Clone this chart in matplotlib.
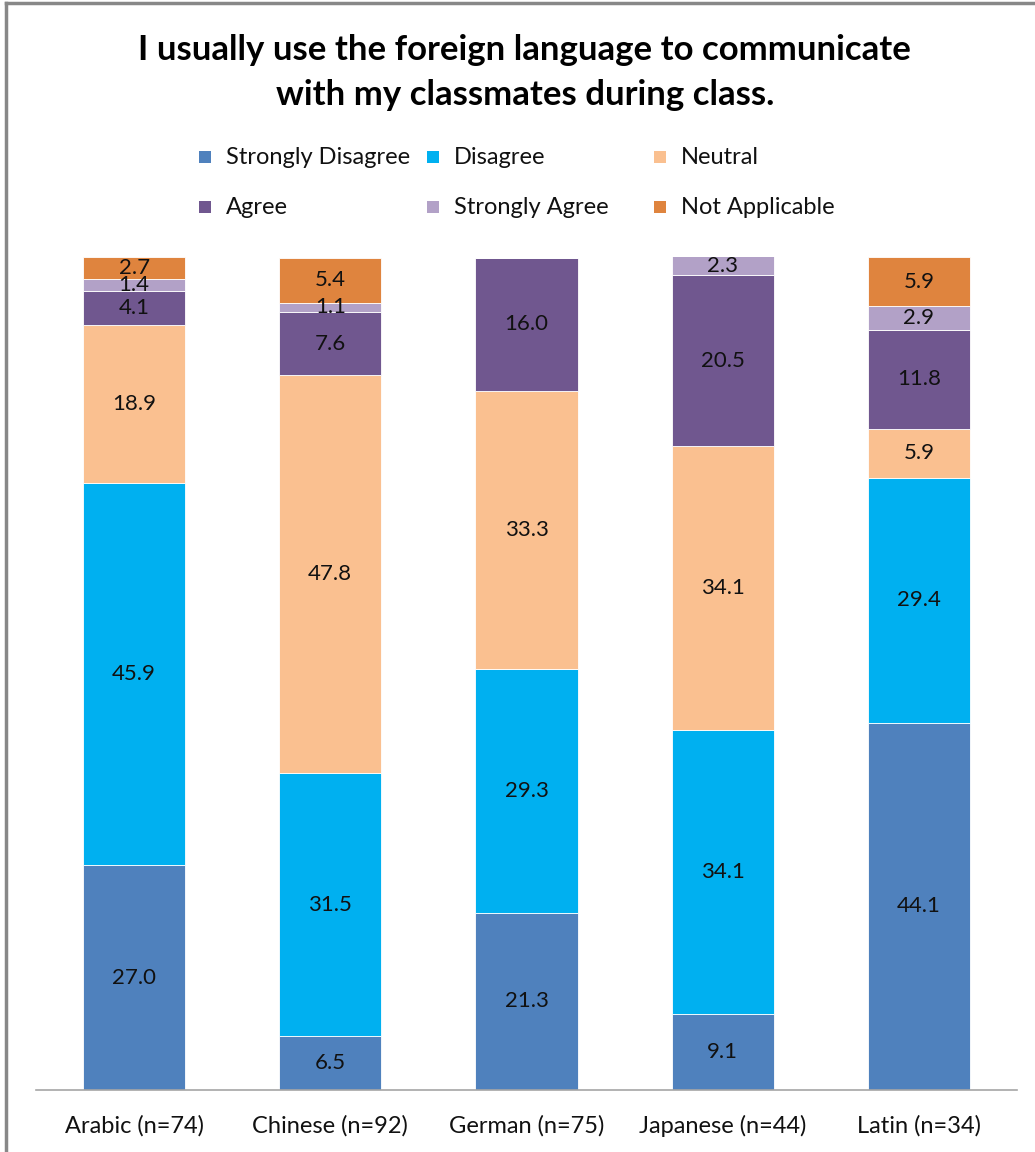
import numpy as np
import matplotlib.pyplot as plt
from matplotlib.lines import Line2D
from matplotlib.patches import Rectangle

plt.rcParams['font.family'] = ['Lato', 'DejaVu Sans']

# Data
languages = ['Arabic (n=74)', 'Chinese (n=92)', 'German (n=75)', 'Japanese (n=44)', 'Latin (n=34)']
strongly_disagree = [27.0, 6.5, 21.3, 9.1, 44.1]
disagree = [45.9, 31.5, 29.3, 34.1, 29.4]
neutral = [18.9, 47.8, 33.3, 34.1, 5.9]
agree = [4.1, 7.6, 16.0, 20.5, 11.8]
strongly_agree = [1.4, 1.1, 0.0, 2.3, 2.9]
not_applicable = [2.7, 5.4, 0.0, 0.0, 5.9]

series = [
    ('Strongly Disagree', strongly_disagree, '#4F81BD'),
    ('Disagree', disagree, '#00B0F0'),
    ('Neutral', neutral, '#FAC090'),
    ('Agree', agree, '#70578F'),
    ('Strongly Agree', strongly_agree, '#B2A1C7'),
    ('Not Applicable', not_applicable, '#DF843E'),
]

W, H = 1035, 1152
fig = plt.figure(figsize=(W / 100, H / 100), dpi=100)
ax = fig.add_axes([36 / W, 62 / H, 981 / W, 833 / H])

x = np.arange(len(languages))
bottom = np.zeros(len(languages))
for name, vals, color in series:
    vals = np.array(vals)
    ax.bar(x, vals, width=0.52, bottom=bottom, color=color,
           edgecolor='white', linewidth=0.6)
    for xi, b, v in zip(x, bottom, vals):
        if v > 0:
            ax.text(xi, b + v / 2, f'{v:.1f}', ha='center', va='center',
                    fontsize=16, color='#111111')
    bottom += vals

ax.set_xlim(-0.5, 4.5)
ax.set_ylim(0, 100)
ax.set_yticks([])
for s in ['top', 'right', 'left']:
    ax.spines[s].set_visible(False)
ax.spines['bottom'].set_color('#a6a6a6')
ax.spines['bottom'].set_linewidth(1.2)
ax.set_xticks(x)
ax.set_xticklabels(languages, fontsize=17, color='#111111')
ax.tick_params(axis='x', length=0, pad=18)

# Title
fig.text(0.507, 1 - 50 / H, 'I usually use the foreign language to communicate',
         ha='center', va='center', fontsize=25, fontweight='bold')
fig.text(0.507, 1 - 95 / H, 'with my classmates during class.',
         ha='center', va='center', fontsize=25, fontweight='bold')

# Legend, laid out in 3 equal columns like the original
col_x = [199, 427, 654]
row_y = [157, 207]
for i, (name, _, color) in enumerate(series):
    cx = col_x[i % 3]
    cy = row_y[i // 3]
    fig.add_artist(Rectangle(((cx) / W, 1 - (cy + 6) / H), 12 / W, 12 / H,
                             transform=fig.transFigure, facecolor=color, edgecolor='none'))
    fig.text((cx + 27) / W, 1 - cy / H, name, ha='left', va='center',
             fontsize=17, color='#111111')

# outer frame
fig.add_artist(Line2D([6 / W, 6 / W], [0, 1 - 3 / H], transform=fig.transFigure,
                      color='#888888', linewidth=2.5))
fig.add_artist(Line2D([6 / W, 1], [1 - 3 / H, 1 - 3 / H], transform=fig.transFigure,
                      color='#888888', linewidth=2.5))

fig.savefig('out.png', dpi=100)
